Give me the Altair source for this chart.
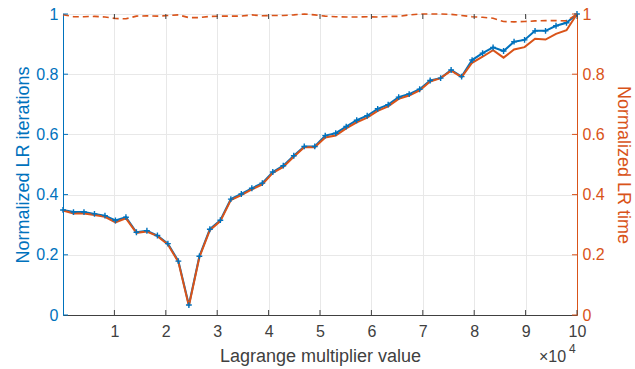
import altair as alt
import pandas as pd

# ---- data ----
lagrange = [0, 2041, 4082, 6122, 8163, 10204, 12245, 14286, 16327, 18367,
            20408, 22449, 24490, 26531, 28571, 30612, 32653, 34694, 36735, 38776,
            40816, 42857, 44898, 46939, 48980, 51020, 53061, 55102, 57143, 59184,
            61224, 63265, 65306, 67347, 69388, 71429, 73469, 75510, 77551, 79592,
            81633, 83673, 85714, 87755, 89796, 91837, 93878, 95918, 97959, 100000]

lr_iterations = [0.349, 0.342, 0.342, 0.336, 0.330, 0.314, 0.325, 0.275, 0.280, 0.264,
                 0.237, 0.179, 0.033, 0.195, 0.285, 0.315, 0.385, 0.402, 0.421, 0.438,
                 0.475, 0.496, 0.529, 0.560, 0.560, 0.596, 0.604, 0.626, 0.647, 0.662,
                 0.685, 0.699, 0.724, 0.734, 0.750, 0.779, 0.787, 0.814, 0.792, 0.847,
                 0.870, 0.889, 0.877, 0.908, 0.914, 0.944, 0.944, 0.961, 0.971, 1.000]

lr_time = [0.347, 0.337, 0.337, 0.332, 0.326, 0.308, 0.321, 0.273, 0.277, 0.262,
           0.234, 0.176, 0.030, 0.192, 0.282, 0.312, 0.382, 0.398, 0.417, 0.434,
           0.472, 0.492, 0.526, 0.557, 0.557, 0.590, 0.596, 0.620, 0.640, 0.656,
           0.678, 0.693, 0.718, 0.729, 0.746, 0.776, 0.787, 0.812, 0.790, 0.838,
           0.858, 0.880, 0.855, 0.882, 0.890, 0.918, 0.915, 0.934, 0.946, 1.000]

lr_time_dashed = [0.998, 0.991, 0.991, 0.992, 0.990, 0.985, 0.984, 0.993, 0.994, 0.993,
                  0.995, 0.997, 0.988, 0.988, 0.992, 0.993, 0.993, 0.993, 0.997, 0.994,
                  0.995, 0.995, 0.997, 1.000, 0.997, 0.993, 0.991, 0.990, 0.990, 0.991,
                  0.990, 0.992, 0.992, 0.997, 1.000, 1.000, 1.000, 0.999, 0.995, 0.991,
                  0.989, 0.986, 0.975, 0.974, 0.975, 0.977, 0.978, 0.978, 0.977, 1.000]

x_ticks = [10000, 20000, 30000, 40000, 50000, 60000, 70000, 80000, 90000, 100000]
y_ticks = [0, 0.2, 0.4, 0.6, 0.8, 1]

BLUE = "#0072BD"
ORANGE = "#D95319"
GRAY = "#404040"
GRID = "#e8e8e8"
FONT = "Liberation Sans"
W, H = 514, 301

df = pd.DataFrame({"x": lagrange, "iters": lr_iterations,
                   "time": lr_time, "dashed": lr_time_dashed})
xt = pd.DataFrame({"x": x_ticks})
yt = pd.DataFrame({"y": y_ticks})

xscale = alt.Scale(domain=[0, 100000], nice=False)
yscale = alt.Scale(domain=[0, 1], nice=False)

x_enc = alt.X("x:Q", scale=xscale, axis=alt.Axis(
    values=x_ticks, labelExpr="datum.value / 10000", grid=True, gridColor=GRID,
    ticks=False, domainColor=GRAY, labelColor=GRAY, labelFont=FONT, labelFontSize=16,
    labelPadding=8, labelFlush=False, title="Lagrange multiplier value",
    titleFont=FONT, titleFontSize=18, titleFontWeight="normal", titleColor=GRAY,
    titlePadding=8))

base = alt.Chart(df)

blue_line = base.mark_line(color=BLUE, strokeWidth=2).encode(
    x=x_enc,
    y=alt.Y("iters:Q", scale=yscale, axis=alt.Axis(
        orient="left", values=y_ticks, format="~g", grid=True, gridColor=GRID,
        ticks=False, domainColor=BLUE, labelColor=BLUE, labelFont=FONT,
        labelFontSize=16, labelPadding=5, title="Normalized LR iterations",
        titleFont=FONT, titleFontSize=18, titleFontWeight="normal",
        titleColor=BLUE, titlePadding=3)))

blue_pts = base.mark_point(shape="M-1,0L1,0M0,-1L0,1", filled=False, color=BLUE,
                           strokeWidth=1.4, size=34, opacity=1).encode(
    x=alt.X("x:Q", scale=xscale),
    y=alt.Y("iters:Q", scale=yscale, axis=None))

orange_line = base.mark_line(color=ORANGE, strokeWidth=2).encode(
    x=alt.X("x:Q", scale=xscale),
    y=alt.Y("time:Q", scale=yscale, axis=alt.Axis(
        orient="right", values=y_ticks, format="~g", grid=False, ticks=False,
        domainColor=ORANGE, labelColor=ORANGE, labelFont=FONT, labelFontSize=16,
        labelPadding=5, title="Normalized LR time", titleFont=FONT,
        titleFontSize=18, titleFontWeight="normal", titleColor=ORANGE,
        titlePadding=9)))

orange_dash = base.mark_line(color=ORANGE, strokeWidth=1.6, strokeDash=[6, 4]).encode(
    x=alt.X("x:Q", scale=xscale),
    y=alt.Y("dashed:Q", scale=yscale, axis=None))

# inward tick marks (MATLAB style)
xt_bottom = alt.Chart(xt).mark_rule(color=GRAY, strokeWidth=1).encode(
    x=alt.X("x:Q", scale=xscale), y=alt.value(H), y2=alt.value(H - 5))
xt_top = alt.Chart(xt).mark_rule(color=GRAY, strokeWidth=1).encode(
    x=alt.X("x:Q", scale=xscale), y=alt.value(0), y2=alt.value(5))
yt_left = alt.Chart(yt).mark_rule(color=BLUE, strokeWidth=1).encode(
    y=alt.Y("y:Q", scale=yscale, axis=None), x=alt.value(0), x2=alt.value(5))
yt_right = alt.Chart(yt).mark_rule(color=ORANGE, strokeWidth=1).encode(
    y=alt.Y("y:Q", scale=yscale, axis=None), x=alt.value(W), x2=alt.value(W - 5))

one = alt.Data(values=[{"t": "×10", "e": "4"}])
exp_base = alt.Chart(one).mark_text(font=FONT, fontSize=16, color=GRAY, align="left",
                                    baseline="middle").encode(
    text="t:N", x=alt.value(476), y=alt.value(343))
exp_sup = alt.Chart(one).mark_text(font=FONT, fontSize=12, color=GRAY, align="left",
                                   baseline="middle").encode(
    text="e:N", x=alt.value(506), y=alt.value(335))

chart = alt.layer(
    blue_line, orange_line, blue_pts, orange_dash,
    xt_bottom, xt_top, yt_left, yt_right, exp_base, exp_sup
).resolve_scale(y="independent").properties(
    width=W, height=H,
    padding={"left": 63, "top": 14, "right": 58, "bottom": 54},
    autosize=alt.AutoSizeParams(type="none"),
    background="white",
).configure_view(stroke=GRAY, strokeWidth=1)

chart.save("out.html", embed_options={"renderer": "svg", "actions": False})
